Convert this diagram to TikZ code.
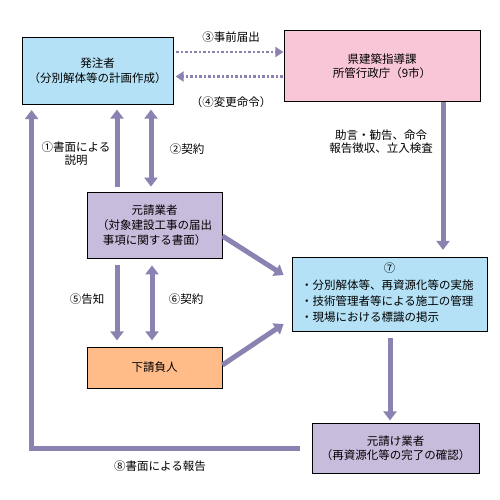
\documentclass[tikz,border=0pt]{standalone}
\usepackage{fontspec}
\newfontfamily\cjk{Noto Sans CJK JP}
\usetikzlibrary{arrows.meta}
\definecolor{flowc}{RGB}{139,130,178}
\definecolor{blueb}{RGB}{180,225,245}
\definecolor{pinkb}{RGB}{249,198,216}
\definecolor{lavb}{RGB}{200,188,220}
\definecolor{orangeb}{RGB}{255,187,136}

\begin{document}
\begin{tikzpicture}[x=1pt,y=-1pt,
	box/.style={draw=black,line width=0.8pt,inner sep=0pt,align=center,
		font=\cjk\fontsize{11.5}{15}\selectfont},
	lbl/.style={align=center,inner sep=0pt,font=\cjk\fontsize{11.5}{13.5}\selectfont},
	flow/.style={draw=flowc,line width=5pt,-{Triangle[width=13pt,length=9pt]}},
	both/.style={flow,{Triangle[width=13pt,length=9pt]}-{Triangle[width=13pt,length=9pt]}},
	dots/.style={draw=flowc,line width=2.5pt,dotted,-{Triangle[width=10pt,length=8pt]}}]
	
	\useasboundingbox (0,0) rectangle (500,500);
	
	\node[box,fill=blueb,minimum width=151pt,minimum height=67pt,
		font=\cjk\fontsize{11.5}{14.5}\selectfont] (hatchu) at (97.5,70.5) {発注者\\（分別解体等の計画作成）};
	\node[box,fill=pinkb,minimum width=196pt,minimum height=71pt,
		font=\cjk\fontsize{11.5}{14.5}\selectfont] (ken) at (382,66) {県建築指導課\\所管行政庁（9市）};
	\node[box,fill=lavb,minimum width=135pt,minimum height=66pt] (moto) at (154.5,225) {元請業者\\（対象建設工事の届出\\事項に関する書面）};
	\node[box,fill=orangeb,minimum width=135pt,minimum height=41pt] (shita) at (154.5,367.5) {下請負人};
	\node[box,fill=blueb,minimum width=195pt,minimum height=74pt] (jisshi) at (389.5,294) {};
	\node[lbl] (n7) at (389.5,268) {⑦};
	\node[lbl,align=left,anchor=west,font=\cjk\fontsize{11.5}{16}\selectfont] (items) at (301,301.5)
		{・分別解体等、再資源化等の実施\\・技術管理者等による施工の管理\\・現場における標識の掲示};
	\node[box,fill=lavb,minimum width=167pt,minimum height=50pt,
		font=\cjk\fontsize{11.5}{14.5}\selectfont] (kanryo) at (395.5,448) {元請け業者\\（再資源化等の完了の確認）};
	
	% notification / order
	\draw[dots] ([xshift=3pt,yshift=18.5pt]hatchu.east) -- ++(107,0);
	\draw[dots] ([xshift=-1pt,yshift=-10.5pt]ken.west) -- ++(-107,0);
	\node[lbl] (l3) at (231,37) {③事前届出};
	\node[lbl] (l4) at (231,102) {（④変更命令）};
	
	\draw[flow] ([xshift=-37.5pt,yshift=5pt]moto.north) -- ++(0,-77);
	\draw[both] ([xshift=-3.5pt,yshift=5pt]moto.north) -- ++(0,-77);
	\node[lbl] (l1) at (76,153.5) {①書面による\\説明};
	\node[lbl] (l2) at (187,149) {②契約};
	
	\draw[flow] ([xshift=61pt]ken.south) -- ++(0,148);
	\node[lbl] (lk) at (381,141.5) {助言・勧告、命令\\報告徴収、立入検査};
	
	\draw[flow] ([xshift=-37.5pt,yshift=-7pt]moto.south) -- ++(0,75);
	\draw[both] ([xshift=-2.5pt,yshift=-7pt]moto.south) -- ++(0,75);
	\node[lbl] (l5) at (87,299) {⑤告知};
	\node[lbl] (l6) at (186,299) {⑥契約};
	
	\draw[flow] ([yshift=-11pt]moto.east) -- ([xshift=-8pt,yshift=19pt]jisshi.west);
	\draw[flow] ([yshift=2.5pt]shita.east) -- ([xshift=-8pt,yshift=-30pt]jisshi.west);
	
	\draw[flow] ([xshift=0.5pt,yshift=-7pt]jisshi.south) -- ++(0,82);
	
	% written report
	\draw[flow,line join=miter] ([xshift=-12pt]kanryo.west) -| ++(-268,-338);
	\node[lbl] (l8) at (160,466) {⑧書面による報告};
	
\end{tikzpicture}
\end{document}
